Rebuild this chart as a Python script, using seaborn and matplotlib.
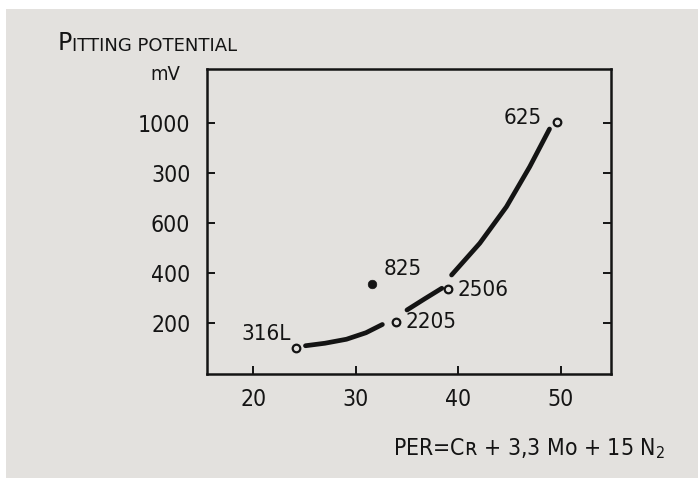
import matplotlib
matplotlib.use("Agg")
import matplotlib.pyplot as plt
import seaborn as sns
import pandas as pd

# ---- data ----
grades = ["316L", "825", "2205", "2506", "625"]
per_values = [24.2, 31.6, 33.9, 39.0, 49.6]
potential_mv = [98, 355, 204, 335, 1004]
open_marker = [True, False, True, True, True]

# hand-drawn trend curve (three drawn pieces)
curve1_x = [25.1, 27.0, 29.1, 31.0, 32.6]
curve1_y = [108, 118, 134, 160, 193]
curve2_x = [35.0, 36.7, 38.4]
curve2_y = [251, 295, 338]
curve3_x = [39.35, 42.1, 44.7, 46.97, 48.9]
curve3_y = [391, 518, 664, 824, 975]

y_ticks = [200, 400, 600, 800, 1000]
y_tick_labels = ["200", "400", "600", "300", "1000"]
x_ticks = [20, 30, 40, 50]
x_tick_labels = ["20", "30", "40", "50"]

label_offsets = {"316L": (-4, 10, "right"), "825": (8, 11, "left"),
                 "2205": (7, 0, "left"), "2506": (7, -1, "left"),
                 "625": (-11, 3, "right")}

BG = "#e3e1de"
INK = "#141414"

sns.set_style("ticks")
plt.rcParams["font.family"] = ["DejaVu Sans"]
plt.rcParams["font.stretch"] = "condensed"

fig = plt.figure(figsize=(6.98, 4.78), dpi=100, facecolor=BG)
ax = fig.add_axes([0.2966, 0.2176, 0.5788, 0.638])
ax.set_facecolor(BG)

# white scan margins
fig.patches.append(plt.Rectangle((0, 1 - 9 / 478), 1, 9 / 478, transform=fig.transFigure,
                                 facecolor="white", edgecolor="none", zorder=-1))
fig.patches.append(plt.Rectangle((0, 0), 6 / 698, 1, transform=fig.transFigure,
                                 facecolor="white", edgecolor="none", zorder=-1))

for cx, cy in [(curve1_x, curve1_y), (curve2_x, curve2_y), (curve3_x, curve3_y)]:
    sns.lineplot(x=cx, y=cy, sort=False, color=INK, linewidth=3.4, ax=ax,
                 solid_capstyle="round")

df = pd.DataFrame({"grade": grades, "per": per_values, "mv": potential_mv,
                   "open": open_marker})
op = df[df["open"]]
fl = df[~df["open"]]
sns.scatterplot(data=op, x="per", y="mv", ax=ax, s=30, marker="o",
                facecolor=BG, edgecolor=INK, linewidth=1.6, zorder=5)
sns.scatterplot(data=fl, x="per", y="mv", ax=ax, s=38, marker="o",
                color=INK, edgecolor=INK, zorder=5)

for g, xv, yv in zip(grades, per_values, potential_mv):
    dx, dy, ha = label_offsets[g]
    ax.annotate(g, (xv, yv), xytext=(dx, dy), textcoords="offset points",
                ha=ha, va="center", fontsize=16, color=INK)

ax.set_xlim(15.5, 54.9)
ax.set_ylim(-5, 1215)
ax.set_xticks(x_ticks)
ax.set_xticklabels(x_tick_labels)
ax.set_yticks(y_ticks)
ax.set_yticklabels(y_tick_labels)
ax.tick_params(axis="both", direction="in", length=6, width=1.4, colors=INK,
               labelsize=16.5, labelcolor=INK)
ax.tick_params(axis="y", right=True, pad=12)
ax.tick_params(axis="x", pad=10)
for s in ax.spines.values():
    s.set_linewidth(1.8)
    s.set_color(INK)
ax.set_xlabel("")
ax.set_ylabel("")

# y-axis title in small caps style
t = fig.text(58 / 698, 1 - 50 / 478, "P", fontsize=17, color=INK, va="baseline",
             ha="left", fontstretch="normal")
ax.annotate("ITTING POTENTIAL", xy=(1.0, 0.0), xycoords=t, fontsize=13,
            color=INK, va="bottom", ha="left", fontstretch="normal")
fig.text(165 / 698, 1 - 80 / 478, "mV", fontsize=14.5, color=INK, va="baseline",
         ha="center")

# x-axis formula
fig.text(665 / 698, 1 - 455 / 478, "PER=Cʀ + 3,3 Mo + 15 N$_2$", fontsize=16.5,
         color=INK, ha="right", va="baseline")

fig.savefig("out.png", dpi=100, facecolor=BG)
